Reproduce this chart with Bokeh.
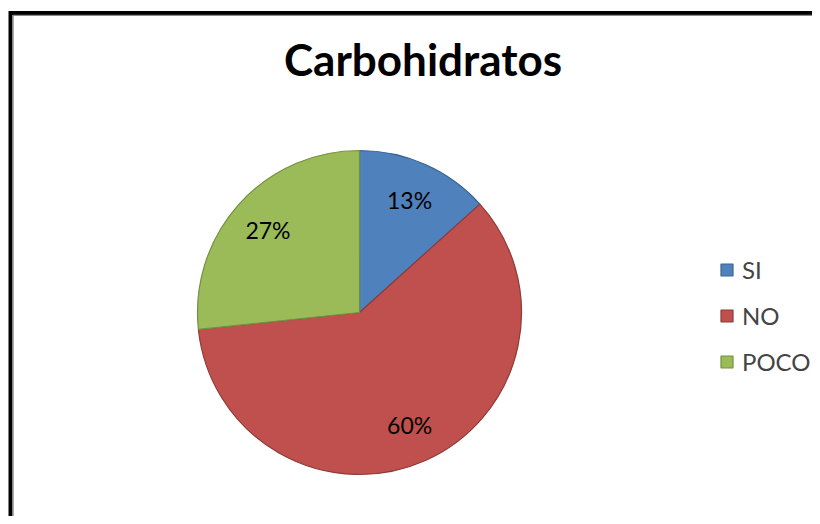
import numpy as np
from bokeh.plotting import figure
from bokeh.models import ColumnDataSource, Range1d, Legend, LegendItem
from bokeh.core.properties import value
from bokeh.embed import file_html
from bokeh.resources import INLINE

# ---- data ----
title = "Carbohidratos"
categories = ["SI", "NO", "POCO"]
percents = [13.33, 60.0, 26.67]
colors = ["#4F81BD", "#C0504D", "#9BBB59"]
edge_colors = ["#3A6496", "#8E3B39", "#74903F"]

W, H = 812, 516
p = figure(width=W, height=H, x_range=Range1d(0, W), y_range=Range1d(0, H),
           x_axis_type=None, y_axis_type=None, toolbar_location=None,
           output_backend="svg", min_border=0, outline_line_color=None,
           background_fill_color="white", border_fill_color="white")
p.grid.visible = False

# chart border (Excel-like, cut at right/bottom)
p.line([10, 10, W + 20], [-20, 503.5, 503.5], line_color="black", line_width=4, line_join="miter")
p.line([12.6, 12.6, W + 20], [-20, 501.2, 501.2], line_color="#8A8A8A", line_width=1.2, line_join="miter")

# pie
cx, cy, r = 359, 204, 162
frac = np.array(percents) / sum(percents)
ends = np.pi / 2 - 2 * np.pi * np.cumsum(frac)
starts = np.concatenate([[np.pi / 2], ends[:-1]])
mids = (starts + ends) / 2
src = ColumnDataSource(dict(cat=categories, start=starts, end=ends, color=colors,
                            edge=edge_colors,
                            lx=cx + 0.76 * r * np.cos(mids), ly=cy + 0.76 * r * np.sin(mids),
                            lab=[f"{round(v)}%" for v in percents]))
w = p.wedge(x=cx, y=cy, radius=r, start_angle="end", end_angle="start",
            fill_color="color", line_color="edge", line_width=1.2, source=src)

p.text(x="lx", y="ly", text="lab", source=src, text_font=value("Lato"),
       text_font_size="23px", text_align="center", text_baseline="middle",
       text_color="black")

# title
p.text(x=[422.5], y=[458], text=[title], text_font=value("Lato"),
       text_font_size="44px", text_font_style="bold", text_align="center",
       text_baseline="middle", text_color="black")

legend = Legend(items=[LegendItem(label=c, renderers=[w], index=i) for i, c in enumerate(categories)],
                location=(719, 140), padding=0, margin=0, spacing=17,
                glyph_width=15, glyph_height=15, label_height=15, label_standoff=8,
                label_text_font="Lato", label_text_font_size="24px",
                border_line_alpha=0, background_fill_alpha=0)
p.add_layout(legend)

open("out.html", "w").write(file_html(p, INLINE))
